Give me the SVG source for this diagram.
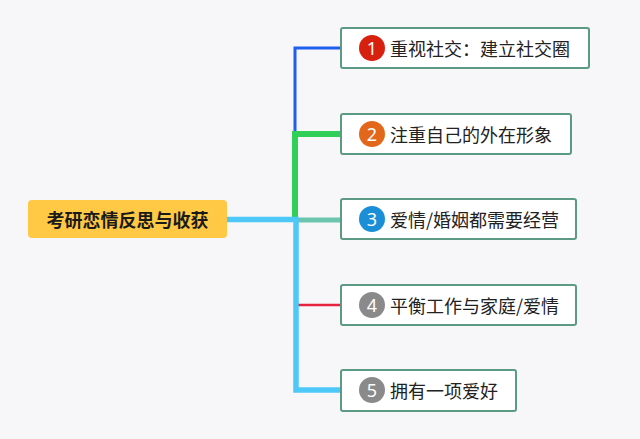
<svg xmlns="http://www.w3.org/2000/svg" width="640" height="439" viewBox="0 0 640 439">
  <style>
    .bg { fill: #f7f7f9; }
    .node rect { fill: #ffffff; stroke: #5c9a84; stroke-width: 2; }
    .label { font-family: "Noto Sans CJK SC", "Noto Sans", sans-serif; font-size: 18px; fill: #222222; dominant-baseline: central; }
    .num { font-family: "Noto Sans", "Liberation Sans", sans-serif; font-size: 18px; fill: #ffffff; text-anchor: middle; dominant-baseline: central; }
    .root-text { font-family: "Noto Sans CJK SC", "Noto Sans", sans-serif; font-size: 18px; font-weight: bold; fill: #1a1a1a; text-anchor: middle; dominant-baseline: central; }
    .conn { fill: none; stroke-linejoin: miter; stroke-linecap: butt; }
  </style>
  <rect class="bg" x="0" y="0" width="640" height="439"/>

  <g id="connectors">
    <path class="conn" d="M295 132 V48 H341" stroke="#1f5ff0" stroke-width="3"/>
    <path class="conn" d="M295 220 V134 H341" stroke="#2fcf58" stroke-width="6"/>
    <path class="conn" d="M295 220 H341" stroke="#6cc6ad" stroke-width="5"/>
    <path class="conn" d="M298 305 H341" stroke="#e8213f" stroke-width="2.5"/>
    <path class="conn" d="M227 219.5 H296 V390 H341" stroke="#4ec8f6" stroke-width="5.5"/>
  </g>

  <g id="root">
    <rect x="28" y="200" width="199" height="38" rx="4" fill="#ffc845"/>
    <text class="root-text" x="127.5" y="219">考研恋情反思与收获</text>
  </g>

  <g id="node1" class="node">
    <rect x="341" y="28" width="248" height="40" rx="2"/>
    <circle cx="372" cy="48" r="13" fill="#d8200f"/>
    <text class="num" x="372" y="48">1</text>
    <text class="label" x="390" y="48">重视社交：建立社交圈</text>
  </g>

  <g id="node2" class="node">
    <rect x="341" y="114" width="230" height="40" rx="2"/>
    <circle cx="372" cy="134" r="13" fill="#e2671a"/>
    <text class="num" x="372" y="134">2</text>
    <text class="label" x="390" y="134">注重自己的外在形象</text>
  </g>

  <g id="node3" class="node">
    <rect x="341" y="199" width="235" height="40" rx="2"/>
    <circle cx="372" cy="219" r="13" fill="#1a8fd8"/>
    <text class="num" x="372" y="219">3</text>
    <text class="label" x="390" y="219">爱情/婚姻都需要经营</text>
  </g>

  <g id="node4" class="node">
    <rect x="341" y="285" width="235" height="40" rx="2"/>
    <circle cx="372" cy="305" r="13" fill="#8a8a8a"/>
    <text class="num" x="372" y="305">4</text>
    <text class="label" x="390" y="305">平衡工作与家庭/爱情</text>
  </g>

  <g id="node5" class="node">
    <rect x="341" y="370" width="175" height="41" rx="2"/>
    <circle cx="372" cy="390" r="13" fill="#8a8a8a"/>
    <text class="num" x="372" y="390">5</text>
    <text class="label" x="390" y="390">拥有一项爱好</text>
  </g>
</svg>
